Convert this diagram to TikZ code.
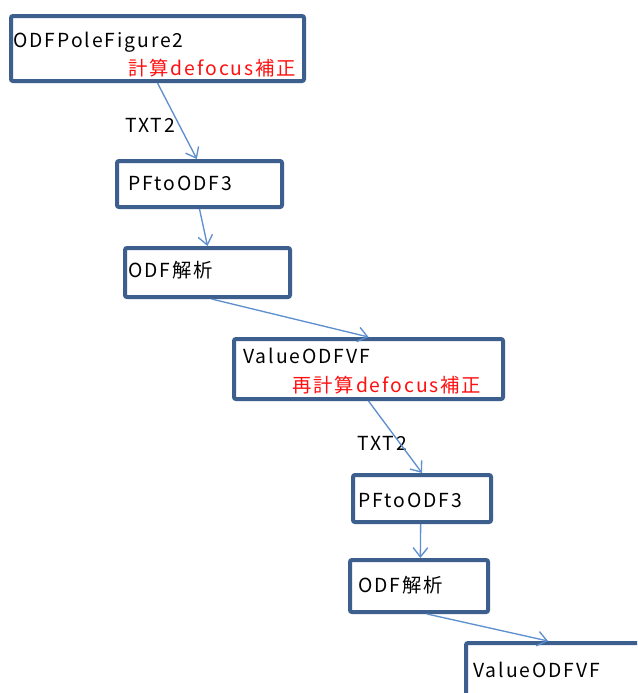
\documentclass[tikz,border=0pt]{standalone}
\usepackage{fontspec}
\setmainfont{Noto Sans CJK JP}[LetterSpace=10]
\usepackage{tikz}
\usetikzlibrary{arrows.meta, fit}

\definecolor{boxblue}{HTML}{3D5F8E}
\definecolor{flowblue}{HTML}{5E8FCF}
\definecolor{fixred}{HTML}{FF1010}

\tikzset{
  prog/.style={draw=boxblue, line width=3pt, rounded corners=1.5pt, fill=white, inner sep=0pt},
  flow/.style={draw=flowblue, line width=1pt, -{Straight Barb[length=7pt, width=11pt]}},
  txt/.style={inner sep=0pt, anchor=base west, font=\fontsize{14.5pt}{17pt}\selectfont},
  fix/.style={txt, text=fixred}
}

\begin{document}
\begin{tikzpicture}[x=0.75pt, y=-0.75pt]
        \useasboundingbox (0,0) rectangle (637,693);
        \fill[white] (0,0) rectangle (637,693);
        \clip (0,0) rectangle (637,693);
        % boxes
        \node[prog, fit={(11,16) (304,81)}] (pole) {};
        \node[prog, fit={(117,161) (282,207)}] (pfodf) {};
        \node[prog, fit={(125,248) (290,297)}] (odf) {};
        \node[prog, fit={(234,339) (503,399)}] (value) {};
        \node[prog, fit={(353,475) (491,522)}] (pfodfb) {};
        \node[prog, fit={(350,560) (488,612)}] (odfb) {};
        \node[prog, fit={(466,643) (660,720)}] (valueb) {};
        % texts
        \node[txt] (poletxt) at (13,47) {ODFPoleFigure2};
        \node[fix] (polefix) at (128,75) {計算defocus補正};
        \node[txt] (pfodftxt) at (128,190) {PFtoODF3};
        \node[txt] (odftxt) at (128,277) {ODF解析};
        \node[txt] (valuetxt) at (243,363) {ValueODFVF};
        \node[fix] (valuefix) at (292,392) {再計算defocus補正};
        \node[txt] (pfodfbtxt) at (358,507) {PFtoODF3};
        \node[txt] (odfbtxt) at (358,592) {ODF解析};
        \node[txt] (valuebtxt) at (473,677) {ValueODFVF};
        \node[txt] (txta) at (125,132) {TXT2};
        \node[txt] (txtb) at (357,450) {TXT2};
        % connectors
        \draw[flow] (pole.south) -- ([xshift=-2pt]pfodf.north);
        \draw[flow] (pfodf.south) -- (odf.north);
        \draw[flow] ([xshift=3pt]odf.south) -- (value.north);
        \draw[flow] (value.south) -- (pfodfb.north);
        \draw[flow] ([xshift=-1pt]pfodfb.south) -- ([xshift=1pt]odfb.north);
        \draw[flow] ([xshift=6pt]odfb.south) -- ([xshift=63pt]valueb.north west);
      \end{tikzpicture}
\end{document}
